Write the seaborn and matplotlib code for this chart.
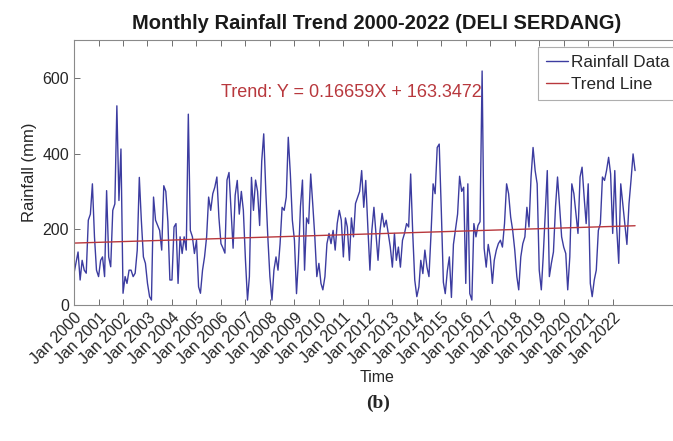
"""
Monthly rainfall trend, Deli Serdang 2000-2022.
"""

import numpy as np
import pandas as pd
import matplotlib
matplotlib.use("Agg")
import matplotlib.pyplot as plt
import seaborn as sns

# monthly rainfall (mm), Jan..Dec for each year
rain_2000 = [84, 113, 140, 66, 118, 92, 84, 224, 240, 320, 180, 92]
rain_2001 = [75, 118, 127, 75, 302, 127, 101, 250, 267, 526, 276, 412]
rain_2002 = [31, 75, 57, 92, 92, 75, 84, 145, 337, 224, 127, 110]
rain_2003 = [57, 22, 13, 285, 224, 210, 197, 145, 315, 300, 220, 66]
rain_2004 = [66, 206, 215, 57, 180, 136, 180, 145, 504, 197, 180, 136]
rain_2005 = [171, 48, 31, 92, 127, 180, 285, 250, 294, 311, 338, 232]
rain_2006 = [162, 150, 137, 330, 350, 250, 150, 290, 329, 240, 300, 250]
rain_2007 = [120, 13, 75, 337, 250, 330, 300, 210, 380, 452, 300, 180]
rain_2008 = [75, 13, 92, 127, 92, 162, 258, 250, 285, 443, 346, 224]
rain_2009 = [171, 30, 118, 260, 330, 92, 230, 215, 346, 267, 180, 75]
rain_2010 = [110, 57, 40, 75, 162, 189, 162, 197, 145, 215, 250, 224]
rain_2011 = [127, 230, 206, 118, 230, 180, 268, 284, 300, 355, 258, 329]
rain_2012 = [206, 92, 197, 258, 189, 118, 197, 242, 206, 224, 189, 153]
rain_2013 = [100, 189, 118, 153, 100, 171, 189, 215, 206, 346, 189, 66]
rain_2014 = [22, 48, 118, 83, 145, 100, 75, 189, 320, 294, 416, 425]
rain_2015 = [250, 60, 30, 90, 127, 20, 160, 200, 240, 340, 300, 311]
rain_2016 = [57, 320, 30, 13, 215, 180, 210, 220, 618, 150, 100, 160]
rain_2017 = [127, 57, 118, 145, 162, 171, 153, 215, 320, 294, 232, 197]
rain_2018 = [145, 75, 40, 127, 162, 180, 258, 206, 338, 416, 355, 320]
rain_2019 = [92, 40, 127, 240, 355, 75, 110, 140, 260, 338, 260, 180]
rain_2020 = [153, 136, 40, 127, 320, 294, 241, 189, 338, 364, 285, 215]
rain_2021 = [320, 57, 22, 66, 92, 197, 215, 338, 329, 355, 390, 346]
rain_2022 = [189, 355, 206, 110, 320, 267, 215, 160, 267, 329, 399, 355]

years = list(range(2000, 2023))
rainfall = (rain_2000 + rain_2001 + rain_2002 + rain_2003 + rain_2004 + rain_2005
            + rain_2006 + rain_2007 + rain_2008 + rain_2009 + rain_2010 + rain_2011
            + rain_2012 + rain_2013 + rain_2014 + rain_2015 + rain_2016 + rain_2017
            + rain_2018 + rain_2019 + rain_2020 + rain_2021 + rain_2022)

# linear trend as printed on the chart (X = month number)
slope = 0.16659
intercept = 163.3472

dates = pd.date_range("2000-01-01", periods=len(rainfall), freq="MS")
month_no = np.arange(1, len(rainfall) + 1)
df = pd.DataFrame({"Time": dates, "Rainfall": rainfall,
                   "Trend": slope * month_no + intercept})

sns.set_theme(style="ticks")
plt.rcParams["font.family"] = ["Liberation Sans", "DejaVu Sans"]

fig = plt.figure(figsize=(6.73, 4.41), dpi=100)
ax = fig.add_axes([0.110, 0.3084, 0.9004, 0.601])

sns.lineplot(data=df, x="Time", y="Rainfall", color="#3c3ca0", linewidth=1.0,
             label="Rainfall Data", ax=ax)
sns.lineplot(data=df, x="Time", y="Trend", color="#b8383d", linewidth=1.0,
             label="Trend Line", ax=ax)

ax.set_xlim(pd.Timestamp("2000-01-01"), pd.Timestamp("2024-10-01"))
ax.set_ylim(0, 700)
ax.set_yticks([0, 200, 400, 600])

ticks = [pd.Timestamp(f"{y}-01-01") for y in years]
ax.set_xticks(ticks)
ax.set_xticklabels([f"Jan {y}" for y in years], rotation=45, ha="right",
                   rotation_mode="anchor")

ax.tick_params(direction="in", length=4, width=0.7, colors="#6e6e6e",
               labelcolor="#262626", labelsize=11.5, top=True, right=True)
for s in ax.spines.values():
    s.set_color("#8a8a8a")
    s.set_linewidth(0.8)

ax.set_xlabel("Time", fontsize=11.5, color="#262626", labelpad=2)
ax.set_ylabel("Rainfall (mm)", fontsize=12, color="#262626", labelpad=4)
ax.set_title("Monthly Rainfall Trend 2000-2022 (DELI SERDANG)",
             fontsize=14.5, fontweight="bold", color="#1a1a1a", pad=8)

ax.text(pd.Timestamp("2006-01-01"), 560, f"Trend: Y = {slope}X + {intercept}",
        color="#b8383d", fontsize=13, ha="left", va="center")

leg = ax.legend(loc="upper left", bbox_to_anchor=(538 / 673, 1 - 47 / 441),
                bbox_transform=fig.transFigure, frameon=True, fancybox=False,
                fontsize=12.3, handlelength=1.3, handletextpad=0.2,
                borderpad=0.45, labelspacing=0.45, borderaxespad=0)
leg.get_frame().set_edgecolor("#9a9a9a")
leg.get_frame().set_linewidth(0.8)

fig.text(0.562, 0.085, "(b)", fontsize=14, fontweight="bold",
         family=["Liberation Serif", "DejaVu Serif"], ha="center", va="center")

plt.savefig("out.png", dpi=100)
